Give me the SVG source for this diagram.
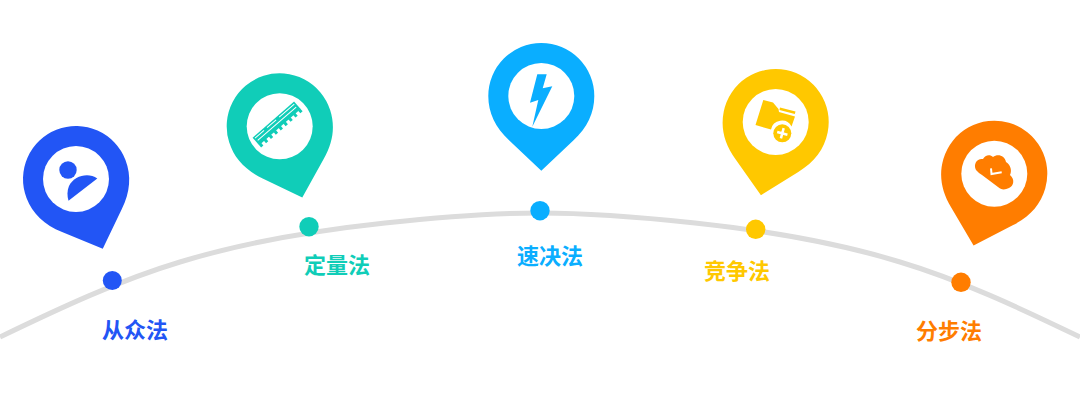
<svg xmlns="http://www.w3.org/2000/svg" width="1080" height="406" viewBox="0 0 1080 406">
<style>
.lbl{font-family:"Noto Sans CJK SC","Noto Sans",sans-serif;font-size:22px;font-weight:700;text-anchor:middle}
.hole{fill:#fff}
</style>
<defs>
<path id="pin" d="M0 74.700 L-32 44.500 C-46 31.500 -53 17 -53 0 A53 53 0 0 1 53 0 C53 17 46 31.500 32 44.500 Z"/>
</defs>
<rect width="1080" height="406" fill="#fff"/>
<g id="connectors">
<path d="M0 337 C60 308 120 280 180 262 C250 240.500 320 230 385 223 C435 217.600 490 213 540 213 C590 213 645 217.600 695 223 C760 230 830 240.500 900 262 C960 280 1020 308 1080 337" fill="none" stroke="#dcdcdc" stroke-width="5"/>
</g>
<g id="node-1" fill="#2255f5">
<use href="#pin" transform="translate(76 179) rotate(-21)"/>
<circle class="hole" cx="76" cy="179" r="33"/>
<circle cx="68" cy="170" r="8.700"/>
<path d="M97.300 178.500 C88 172 74 176 69 186 C67 191 67 196 68.500 200.700 Z"/>
<circle cx="112.300" cy="280.500" r="9.500"/>
<text class="lbl" x="135" y="338">从众法</text>
</g>
<g id="node-2" fill="#10cdb8">
<use href="#pin" transform="translate(279.700 126.300) rotate(-17.600)"/>
<circle class="hole" cx="279.700" cy="126.300" r="33"/>
<g transform="translate(277.600 124.500) rotate(-41)">
<rect x="-27.500" y="-6.500" width="55" height="10"/>
<path d="M-26-4.500H-14M-10-4.500H2M6-4.500H26" stroke="#fff" stroke-width="1" fill="none"/>
<path d="M-25.500-1H25.500" stroke="#fff" stroke-width="1" fill="none"/>
<path d="M-27.500 3V6.500H-24.500V3ZM-21 3V6.500H-18V3ZM-14.500 3V6.500H-11.500V3ZM-8 3V6.500H-5V3ZM-1.500 3V6.500H1.500V3ZM5 3V6.500H8V3ZM11.500 3V6.500H14.500V3ZM18 3V6.500H21V3ZM24.500 3V6.500H27.500V3Z"/>
</g>
<circle cx="309" cy="226.700" r="9.700"/>
<text class="lbl" x="337" y="273">定量法</text>
</g>
<g id="node-3" fill="#0aaeff">
<use href="#pin" transform="translate(541.300 96)"/>
<circle class="hole" cx="541.300" cy="96" r="33"/>
<path d="M537.300 74.300H546.700L542.700 88.300L552.300 86.300L532.300 126.700L538.300 100L530 102.700Z"/>
<circle cx="540" cy="210.700" r="9.700"/>
<text class="lbl" x="550" y="263.500">速决法</text>
</g>
<g id="node-4" fill="#ffc800">
<use href="#pin" transform="translate(775.700 122) rotate(11.400)"/>
<circle class="hole" cx="775.700" cy="122" r="33"/>
<path d="M763.300 100L773 102.500L778.500 109L779 112L795 116.500L791.500 126.500A11 11 0 0 0 771 129.500L755.500 125Z"/>
<path d="M780 107.500L795.500 111.500L794.800 114L779.500 110Z"/>
<circle cx="782.300" cy="133.300" r="9"/>
<path d="M777 133.300H787.600M782.300 128V138.600" stroke="#fff" stroke-width="2.500" transform="rotate(15 782.300 133.300)"/>
<circle cx="755.700" cy="229.300" r="9.700"/>
<text class="lbl" x="737" y="278.500">竞争法</text>
</g>
<g id="node-5" fill="#ff7d00">
<use href="#pin" transform="translate(994.300 173.700) rotate(16.100)"/>
<circle class="hole" cx="994.300" cy="173.700" r="33"/>
<path d="M976 170C973 164 977 158 983 159C985 155 990 154 993 157C998 153 1005 156 1006 162C1011 165 1012 171 1010 175C1015 179 1014 186 1009 188C1005 190 1001 190 998 187L982 175C980 174 978 172 976 170Z"/>
<path d="M991 168.300L991.500 174L1001.700 172.300" fill="none" stroke="#fff" stroke-width="2"/>
<circle cx="961" cy="282.300" r="9.700"/>
<text class="lbl" x="949" y="338.500">分步法</text>
</g>
</svg>
